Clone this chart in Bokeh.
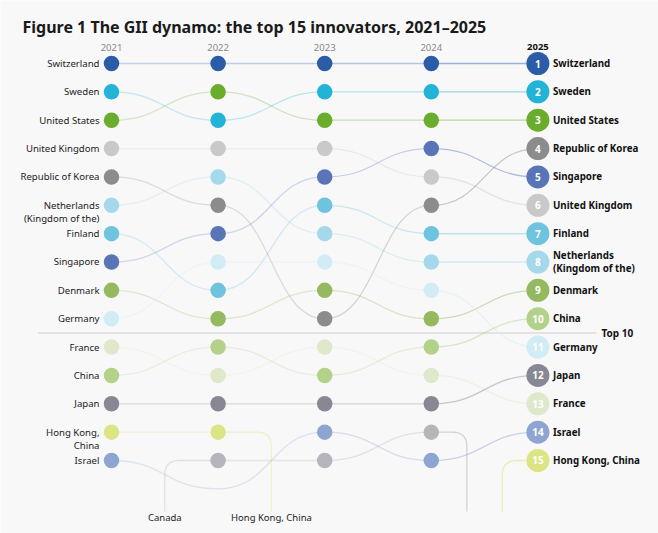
import numpy as np
from bokeh.plotting import figure
from bokeh.models import Range1d, Label
from bokeh.embed import file_html
from bokeh.resources import INLINE
from bokeh.core.properties import value

# ---------------- data ----------------
years = [2021, 2022, 2023, 2024, 2025]
countries = ["Switzerland", "Sweden", "United States", "United Kingdom",
             "Republic of Korea", "Netherlands (Kingdom of the)", "Finland",
             "Singapore", "Denmark", "Germany", "France", "China", "Japan",
             "Hong Kong, China", "Israel", "Canada"]
left_labels = ["Switzerland", "Sweden", "United States", "United Kingdom",
               "Republic of Korea", "Netherlands\n(Kingdom of the)", "Finland",
               "Singapore", "Denmark", "Germany", "France", "China", "Japan",
               "Hong Kong,\nChina", "Israel", "Canada"]
right_labels = ["Switzerland", "Sweden", "United States", "United Kingdom",
                "Republic of Korea", "Netherlands\n(Kingdom of the)", "Finland",
                "Singapore", "Denmark", "Germany", "France", "China", "Japan",
                "Hong Kong, China", "Israel", "Canada"]
# ranks by year (None = outside the chart)
rank_2021 = [1, 2, 3, 4, 5, 6, 7, 8, 9, 10, 11, 12, 13, 14, 15, None]
rank_2022 = [1, 3, 2, 4, 6, 5, 9, 7, 10, 8, 12, 11, 13, 14, 16, 15]
rank_2023 = [1, 2, 3, 4, 10, 7, 6, 5, 9, 8, 11, 12, 13, None, 14, 15]
rank_2024 = [1, 2, 3, 5, 6, 8, 7, 4, 10, 9, 12, 11, 13, None, 15, 14]
rank_2025 = [1, 2, 3, 6, 4, 8, 7, 5, 9, 11, 13, 10, 12, 15, 14, None]
colors = ["#2b5ca8", "#22b3d6", "#6aac2c", "#c9c9c9", "#8c8c8c", "#a5d8ea",
          "#6ec3df", "#5a75b7", "#94b95e", "#d2ecf5", "#dfe8cb", "#b4d18a",
          "#878893", "#dde483", "#8ea5d2", "#b5b5bb"]
top_n = 15
cut_rank = 10
title_text = "Figure 1 The GII dynamo: the top 15 innovators, 2021\u20132025"

ranks = [rank_2021, rank_2022, rank_2023, rank_2024, rank_2025]

# ---------------- figure ----------------
W, H = 658, 533
px_year = 106.6
x0px = 111
x_start = years[0] - x0px / px_year
x_end = x_start + W / px_year
row_px = 28.357
y0px = 63
y_top = 1 - y0px / row_px
y_bot = y_top + H / row_px

BG = "#f8f8f8"
p = figure(width=W, height=H, output_backend="svg", toolbar_location=None,
           x_range=Range1d(x_start, x_end), y_range=Range1d(y_bot, y_top),
           x_axis_location=None, y_axis_location=None, min_border=0,
           background_fill_color=BG, border_fill_color=BG,
           outline_line_color=None)
p.grid.visible = False

FONT = value("Noto Sans")

# top-10 cut line
p.line([2020.31, 2025.55], [cut_rank + 0.5, cut_rank + 0.5], line_color="#dcdcdc", line_width=1.5)
p.text([2025.55], [cut_rank + 0.5], text=["Top 10"], x_offset=5, text_baseline="middle",
       text_align="left", text_font=FONT, text_font_style="bold", text_font_size="10px",
       text_color="#111111")

# connecting curves
gap_alpha = [0.25, 0.28, 0.32, 0.45]
bx0, by0, bx1, by1, bcx0, bcy0, bcx1, bcy1, bcol, balpha = ([] for _ in range(10))
paths_x, paths_y, paths_c, paths_a = [], [], [], []
bottom_labels = []
bottom_rank = 16.8
for g in range(len(years) - 1):
    ya, yb = years[g], years[g + 1]
    exits = [i for i in range(len(countries)) if ranks[g][i] is not None and ranks[g + 1][i] is None]
    entries = [i for i in range(len(countries)) if ranks[g][i] is None and ranks[g + 1][i] is not None]
    both = len(exits) > 0 and len(entries) > 0
    for i in range(len(countries)):
        ra, rb = ranks[g][i], ranks[g + 1][i]
        if ra is not None and rb is not None:
            bx0.append(ya); by0.append(ra); bx1.append(yb); by1.append(rb)
            bcx0.append(ya + 0.5); bcy0.append(ra); bcx1.append(yb - 0.5); bcy1.append(rb)
            bcol.append(colors[i]); balpha.append(gap_alpha[g])
        elif ra is not None or rb is not None:
            exiting = ra is not None
            frac = (1 / 3 if exiting else 2 / 3) if both else 0.5
            xv = ya + frac * (yb - ya)
            rx, ry = 0.14, 0.5
            t = np.linspace(0, 1, 12)
            if exiting:
                r = ra
                cx = (1 - t) ** 2 * (xv - rx) + 2 * (1 - t) * t * xv + t ** 2 * xv
                cy = (1 - t) ** 2 * r + 2 * (1 - t) * t * r + t ** 2 * (r + ry)
                xs = [ya] + list(cx) + [xv]
                ys = [r] + list(cy) + [bottom_rank]
            else:
                r = rb
                cx = (1 - t) ** 2 * xv + 2 * (1 - t) * t * xv + t ** 2 * (xv + rx)
                cy = (1 - t) ** 2 * (r + ry) + 2 * (1 - t) * t * r + t ** 2 * r
                xs = [xv] + list(cx) + [yb]
                ys = [bottom_rank] + list(cy) + [r]
            paths_x.append(xs); paths_y.append(ys); paths_c.append(colors[i]); paths_a.append(gap_alpha[g] + 0.1)
            if g < len(years) - 2:
                bottom_labels.append((xv, right_labels[i]))

p.bezier(x0=bx0, y0=by0, x1=bx1, y1=by1, cx0=bcx0, cy0=bcy0, cx1=bcx1, cy1=bcy1,
         line_color=bcol, line_alpha=balpha, line_width=1.3)
p.multi_line(xs=paths_x, ys=paths_y, line_color=paths_c, line_alpha=paths_a, line_width=1.3)

for xv, lab in bottom_labels:
    p.text([xv], [17.0], text=[lab], text_align="center", text_baseline="middle",
           text_font=FONT, text_font_size="9.5px", text_color="#222222")

# dots
dx, dy, dc = [], [], []
for g in range(len(years) - 1):
    for i in range(len(countries)):
        r = ranks[g][i]
        if r is not None and r <= top_n:
            dx.append(years[g]); dy.append(r); dc.append(colors[i])
p.scatter(dx, dy, size=15.5, fill_color=dc, line_color=None)

last = ranks[-1]
lx, ly, lc, ln = [], [], [], []
for i in range(len(countries)):
    r = last[i]
    if r is not None and r <= top_n:
        lx.append(years[-1]); ly.append(r); lc.append(colors[i]); ln.append(str(r))
p.scatter(lx, ly, size=23, fill_color=lc, line_color=None)
p.text(lx, ly, text=ln, text_align="center", text_baseline="middle", text_font=FONT,
       text_font_style="bold", text_font_size="10px", text_color="white")

# year labels
p.text(years[:-1], [1] * (len(years) - 1), text=[str(y) for y in years[:-1]], y_offset=-16,
       text_align="center", text_baseline="middle", text_font=FONT, text_font_size="9.5px",
       text_color="#8a8a8a")
p.text([years[-1]], [1], text=[str(years[-1])], y_offset=-17, text_align="center",
       text_baseline="middle", text_font=FONT, text_font_size="9.5px",
       text_font_style="bold", text_color="#111111")

# left labels (2021)
llx, lly, llt = [], [], []
for i in range(len(countries)):
    r = ranks[0][i]
    if r is None:
        continue
    for k, part in enumerate(left_labels[i].split("\n")):
        llx.append(years[0]); lly.append(r + k * 0.46); llt.append(part)
p.text(llx, lly, text=llt, x_offset=-12, text_align="right", text_baseline="middle",
       text_font=FONT, text_font_size="9.6px", text_color="#222222")

# right labels (2025)
rlx, rly, rlt = [], [], []
for i in range(len(countries)):
    r = last[i]
    if r is None:
        continue
    parts = right_labels[i].split("\n")
    n = len(parts)
    for k, part in enumerate(parts):
        rlx.append(years[-1]); rly.append(r + (k - (n - 1) / 2) * 0.46); rlt.append(part)
p.text(rlx, rly, text=rlt, x_offset=15, text_align="left", text_baseline="middle",
       text_font=FONT, text_font_style="bold", text_font_size="9.8px", text_color="#111111")

# title
p.add_layout(Label(x=22, y=H - 26, x_units="screen", y_units="screen", text=title_text,
                   text_font="Noto Sans", text_font_style="bold", text_font_size="16px",
                   text_baseline="middle", text_color="#1a1a1a"))

open("out.html", "w").write(file_html(p, INLINE))
